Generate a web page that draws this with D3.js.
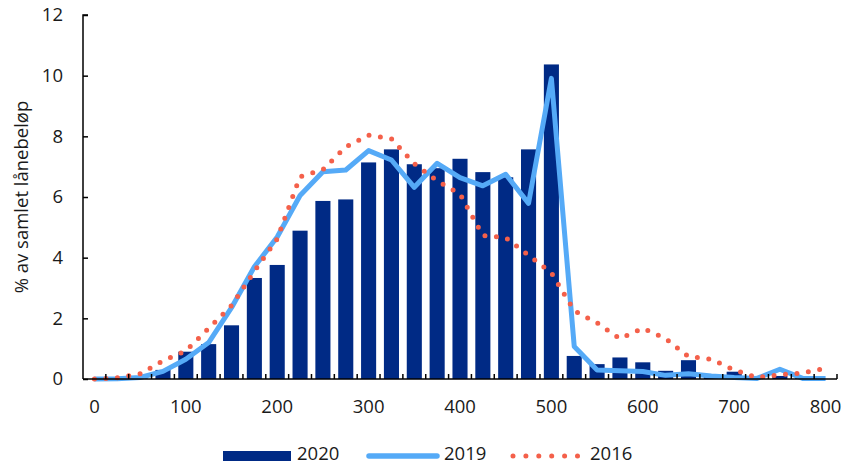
<!DOCTYPE html>
<html>
<head>
<meta charset="utf-8">
<script src="https://cdn.jsdelivr.net/npm/d3@7"></script>
<style>
  body { margin: 0; background: #fff; }
  svg text { font-family: "Open Sans", sans-serif; fill: #1a1a1a; }
</style>
</head>
<body>
<svg width="843" height="464"></svg>
<script>
'use strict';

// loan amount buckets (1000 NOK)
const categories = [0, 25, 50, 75, 100, 125, 150, 175, 200, 225, 250, 275, 300, 325, 350, 375, 400,
  425, 450, 475, 500, 525, 550, 575, 600, 625, 650, 675, 700, 725, 750, 775, 800];

const bars2020 = [0, 0, 0.02, 0.3, 0.9, 1.15, 1.77, 3.33, 3.76, 4.89, 5.87, 5.92, 7.14, 7.57, 7.08, 6.95, 7.26,
  6.82, 6.65, 7.57, 10.37, 0.76, 0.49, 0.71, 0.55, 0.27, 0.62, 0.1, 0.24, 0.05, 0.1, 0.03, 0];

const line2019 = [0, 0.01, 0.05, 0.25, 0.65, 1.2, 2.35, 3.7, 4.68, 6.05, 6.83, 6.89, 7.53, 7.22, 6.32, 7.11, 6.64,
  6.37, 6.75, 5.79, 9.91, 1.07, 0.3, 0.27, 0.25, 0.12, 0.17, 0.1, 0.05, 0.02, 0.32, 0.02, 0.02];

const line2016 = [0, 0.04, 0.17, 0.6, 0.93, 1.67, 2.42, 3.55, 4.62, 6.67, 6.9, 7.65, 8.04, 7.92, 7.1, 6.53, 6.1,
  4.73, 4.66, 4.08, 3.5, 2.25, 1.85, 1.33, 1.67, 1.33, 0.74, 0.65, 0.3, 0.05, 0.14, 0.2, 0.35];

const xLabels = [0, 100, 200, 300, 400, 500, 600, 700, 800];
const yTicks = [0, 2, 4, 6, 8, 10, 12];

const colors = {bar: "#002a85", l2019: "#55aaf7", l2016: "#f4604a"};
const fontSize = 18.5;

const svg = d3.select("svg");
const margin = {top: 15, left: 83, right: 6, bottom: 85};
const width = 843 - margin.left - margin.right;   // 754
const height = 464 - margin.top - margin.bottom;  // 364

const x = d3.scaleBand().domain(categories).range([0, width]).paddingInner(0.34).paddingOuter(0.17);
const y = d3.scaleLinear().domain([0, 12]).range([height, 0]);
const step = x.step();
const cx = function(i) { return x(categories[i]) + x.bandwidth() / 2; };

const g = svg.append("g")
    .attr("transform", "translate(" + margin.left + "," + margin.top + ")");

// bars
g.append("g").selectAll("rect")
    .data(bars2020)
    .join("rect")
    .attr("x", function(d, i) { return x(categories[i]); })
    .attr("width", x.bandwidth())
    .attr("y", function(d) { return y(d); })
    .attr("height", function(d) { return height - y(d); })
    .attr("fill", colors.bar);

const line = d3.line()
    .x(function(d, i) { return cx(i); })
    .y(function(d) { return y(d); });

g.append("path")
    .datum(line2019)
    .attr("fill", "none")
    .attr("stroke", colors.l2019)
    .attr("stroke-width", 5)
    .attr("stroke-linejoin", "round")
    .attr("d", line);

g.append("path")
    .datum(line2016)
    .attr("fill", "none")
    .attr("stroke", colors.l2016)
    .attr("stroke-width", 5)
    .attr("stroke-linecap", "round")
    .attr("stroke-dasharray", "0 11.5")
    .attr("d", line);

// y axis (ticks inside)
const yAxis = g.append("g")
    .call(d3.axisRight(y).tickValues(yTicks).tickSize(5).tickFormat(""));
yAxis.select(".domain").attr("d", "M5,0H0V" + height);
yAxis.selectAll("line, path").attr("stroke", "#000").attr("stroke-width", 1.5);
g.append("g").selectAll("text")
    .data(yTicks)
    .join("text")
    .attr("x", -20)
    .attr("y", function(d) { return y(d); })
    .attr("dy", "0.35em")
    .attr("text-anchor", "end")
    .attr("font-size", fontSize)
    .text(function(d) { return d; });

// x axis: ticks at band boundaries pointing up
const xAxis = g.append("g").attr("transform", "translate(0," + height + ")");
xAxis.append("path")
    .attr("d", "M0,0H" + width)
    .attr("stroke", "#000")
    .attr("stroke-width", 1.5);
xAxis.selectAll("line")
    .data(categories)
    .join("line")
    .attr("x1", function(d, i) { return (i + 1) * step; })
    .attr("x2", function(d, i) { return (i + 1) * step; })
    .attr("y1", 0)
    .attr("y2", -5)
    .attr("stroke", "#000")
    .attr("stroke-width", 1.5);
xAxis.selectAll("text")
    .data(xLabels)
    .join("text")
    .attr("x", function(d) { return x(d) + x.bandwidth() / 2; })
    .attr("y", 34)
    .attr("text-anchor", "middle")
    .attr("font-size", fontSize)
    .text(function(d) { return d; });

// y title
svg.append("text")
    .attr("transform", "translate(28," + 197 + ") rotate(-90)")
    .attr("text-anchor", "middle")
    .attr("font-size", fontSize)
    .text("% av samlet lånebeløp");

// legend
const legend = svg.append("g").attr("transform", "translate(0,456)");
legend.append("rect")
    .attr("x", 223).attr("y", -5).attr("width", 68).attr("height", 10)
    .attr("fill", colors.bar);
legend.append("text").attr("x", 297).attr("y", 4).attr("font-size", fontSize).text("2020");
legend.append("line")
    .attr("x1", 369).attr("x2", 437).attr("y1", 0).attr("y2", 0)
    .attr("stroke", colors.l2019).attr("stroke-width", 5.5).attr("stroke-linecap", "round");
legend.append("text").attr("x", 444).attr("y", 4).attr("font-size", fontSize).text("2019");
legend.append("line")
    .attr("x1", 513).attr("x2", 578).attr("y1", 0).attr("y2", 0)
    .attr("stroke", colors.l2016).attr("stroke-width", 5).attr("stroke-linecap", "round")
    .attr("stroke-dasharray", "0 12.9");
legend.append("text").attr("x", 590).attr("y", 4).attr("font-size", fontSize).text("2016");
</script>
</body>
</html>
